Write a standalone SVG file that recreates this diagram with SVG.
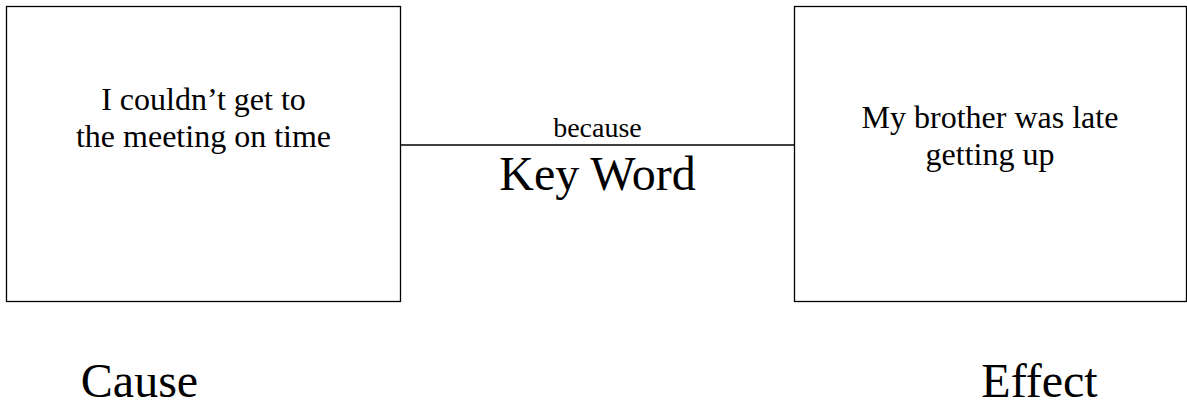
<svg xmlns="http://www.w3.org/2000/svg" width="1187" height="406" viewBox="0 0 1187 406">
<style>
.box{fill:#fff;stroke:#000;stroke-width:1.3}
.t{font-family:"Liberation Serif","Times New Roman",serif;fill:#000;text-anchor:middle}
.m{font-size:32px}
.s{font-size:28px}
.l{font-size:48px}
.conn{stroke:#000;stroke-width:1.3;fill:none}
</style>
<rect width="1187" height="406" fill="#fff"/>
<g id="connectors">
<line class="conn" x1="400.5" y1="145" x2="794.5" y2="145"/>
</g>
<g id="cause-box">
<rect class="box" x="6.5" y="6.5" width="394" height="295"/>
<text class="t m" x="203.5" y="110">I couldn’t get to</text>
<text class="t m" x="203.5" y="147">the meeting on time</text>
</g>
<g id="effect-box">
<rect class="box" x="794.5" y="6.5" width="392" height="295"/>
<text class="t m" x="990" y="128">My brother was late</text>
<text class="t m" x="990" y="165">getting up</text>
</g>
<g id="keyword">
<text class="t s" x="597.5" y="137">because</text>
<text class="t l" x="597.5" y="190">Key Word</text>
</g>
<g id="cause-label">
<text class="t l" x="139.5" y="397">Cause</text>
</g>
<g id="effect-label">
<text class="t l" x="1039.5" y="397">Effect</text>
</g>
</svg>
